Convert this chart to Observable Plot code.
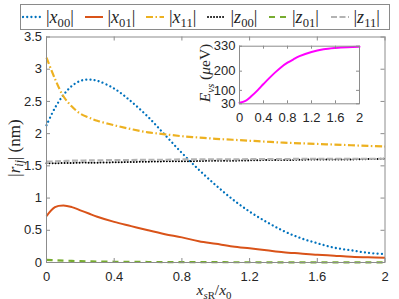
<!DOCTYPE html>
<html><head><meta charset="utf-8">
<script src="https://cdn.jsdelivr.net/npm/d3@7"></script>
<script src="https://cdn.jsdelivr.net/npm/@observablehq/plot@0.6"></script>
<style>
body{margin:0;background:#fff;}
#wrap{position:relative;width:399px;height:299px;overflow:hidden;font-family:"Liberation Sans",Arial,sans-serif;}
#wrap svg{position:absolute;left:0;top:0;}
.tex{position:absolute;font-family:"Liberation Serif","DejaVu Serif",serif;color:#262626;white-space:nowrap;line-height:1;}
.tex sub{font-size:70%;vertical-align:-0.3em;line-height:0;}
#legend{position:absolute;left:20px;top:4px;width:367px;height:24px;border:1px solid #8a8a8a;background:#fff;display:flex;align-items:center;padding-left:1px;box-sizing:content-box;}
.lg{display:flex;align-items:center;width:61.5px;flex:none;}
.lg svg{position:static !important;flex:none;}
.lg span{margin-left:4px;font-family:"Liberation Serif","DejaVu Serif",serif;font-size:18px;color:#262626;}
.lg sub{font-size:70%;vertical-align:-0.3em;line-height:0;}
</style></head><body>
<div id="wrap"></div>
<script>
// ---- data ----
const xGrid = [0,0.05,0.1,0.15,0.2,0.25,0.3,0.4,0.5,0.6,0.7,0.8,0.9,1.0,1.1,1.2,1.3,1.4,1.5,1.6,1.7,1.8,1.9,2.0];
const x00 = [2.13,2.40,2.60,2.74,2.82,2.84,2.82,2.70,2.50,2.26,1.98,1.70,1.44,1.20,0.98,0.79,0.63,0.49,0.38,0.30,0.23,0.19,0.15,0.13];
const x01 = [0.72,0.86,0.885,0.86,0.81,0.76,0.71,0.63,0.565,0.50,0.44,0.39,0.33,0.29,0.25,0.22,0.19,0.16,0.14,0.12,0.105,0.09,0.08,0.073];
const x11 = [3.18,2.85,2.58,2.42,2.31,2.25,2.20,2.13,2.07,2.02,1.99,1.96,1.94,1.92,1.905,1.89,1.875,1.86,1.85,1.84,1.83,1.82,1.81,1.80];
const z00 = [1.54,1.54,1.545,1.545,1.55,1.55,1.55,1.555,1.56,1.565,1.57,1.57,1.575,1.58,1.58,1.585,1.59,1.59,1.595,1.60,1.60,1.60,1.605,1.61];
const z01 = [0.04,0.035,0.03,0.025,0.02,0.018,0.015,0.012,0.01,0.008,0.007,0.006,0.005,0.005,0.004,0.004,0.003,0.003,0.003,0.002,0.002,0.002,0.002,0.002];
const z11 = [1.565,1.57,1.575,1.58,1.58,1.585,1.585,1.59,1.59,1.595,1.595,1.60,1.60,1.60,1.60,1.605,1.605,1.605,1.61,1.61,1.61,1.61,1.61,1.61];
const seriesNames = ["x00","x01","x11","z00","z01","z11"];
const legendLabels = [["x","00"],["x","01"],["x","11"],["z","00"],["z","01"],["z","11"]];
const insetX = [0,0.1,0.2,0.3,0.4,0.5,0.6,0.7,0.8,0.9,1.0,1.2,1.4,1.6,1.8,2.0];
const insetE = [35,45,70,100,133,165,195,222,244,262,278,300,314,321,325,327];
const xTicks = [0,0.4,0.8,1.2,1.6,2];
const yTicks = [0,0.5,1,1.5,2,2.5,3,3.5];
const insetYTicks = [30,100,200,330];

// ---- styles ----
const seriesValues = [x00,x01,x11,z00,z01,z11];
const styles = [
  {stroke:"#0072BD", strokeWidth:2.3, strokeDasharray:"0.01 4.2", strokeLinecap:"round"},
  {stroke:"#D95319", strokeWidth:2, strokeDasharray:null, strokeLinecap:"butt"},
  {stroke:"#EDB120", strokeWidth:2.2, strokeDasharray:"7 2.5 1.5 2.5", strokeLinecap:"butt"},
  {stroke:"#000000", strokeWidth:2, strokeDasharray:"0.01 3", strokeLinecap:"round"},
  {stroke:"#77AC30", strokeWidth:2.2, strokeDasharray:"6 5", strokeLinecap:"butt"},
  {stroke:"#B3B3B3", strokeWidth:2.2, strokeDasharray:"6 2.5", strokeLinecap:"butt"}
];
const axisColor = "#262626", frameColor = "#8c8c8c";
const W = 399, H = 299, mL = 46, mR = 14.5, mT = 36.5, mB = 37;
const pw = W - mL - mR, ph = H - mT - mB;
const tl = 4;

const lineMarks = seriesValues.map((vals, i) => {
  const rows = xGrid.map((x, j) => ({x, y: vals[j], s: seriesNames[i]}));
  const st = styles[i];
  return Plot.line(rows, {x:"x", y:"y", curve:"catmull-rom", stroke: st.stroke, strokeWidth: st.strokeWidth,
    strokeDasharray: st.strokeDasharray, strokeLinecap: st.strokeLinecap});
});

const main = Plot.plot({
  width: W, height: H, marginLeft: mL, marginRight: mR, marginTop: mT, marginBottom: mB,
  style: {background:"transparent", fontFamily:"'Liberation Sans', Arial, sans-serif", color: axisColor},
  x: {domain:[0,2], label:null},
  y: {domain:[0,3.5], label:null},
  marks: [
    ...lineMarks,
    Plot.tickX(xTicks, {x: d => d, insetTop: ph - tl, stroke: frameColor}),
    Plot.tickX(xTicks, {x: d => d, insetBottom: ph - tl, stroke: frameColor}),
    Plot.tickY(yTicks, {y: d => d, insetRight: pw - tl, stroke: frameColor}),
    Plot.tickY(yTicks, {y: d => d, insetLeft: pw - tl, stroke: frameColor}),
    Plot.frame({stroke: frameColor, strokeWidth: 1}),
    Plot.axisX(xTicks, {anchor:"bottom", tickSize:0, tickPadding:9.5, fontSize:13, label:null, tickFormat: d => String(d)}),
    Plot.axisY(yTicks, {anchor:"left", tickSize:0, tickPadding:4.5, fontSize:13, label:null, tickFormat: d => String(d)})
  ]
});

// inset
const iW = 200, iH = 95, iL = 49, iR = 31, iT = 9.7, iB = 27.7;
const ipw = iW - iL - iR, iph = iH - iT - iB, itl = 3;
const inset = Plot.plot({
  width: iW, height: iH, marginLeft: iL, marginRight: iR, marginTop: iT, marginBottom: iB,
  style: {background:"transparent", fontFamily:"'Liberation Sans', Arial, sans-serif", color: axisColor},
  x: {domain:[0,2], label:null},
  y: {domain:[30,330], label:null},
  marks: [
    Plot.frame({fill:"white"}),
    Plot.line(insetX.map((x, j) => ({x, y: insetE[j]})), {x:"x", y:"y", curve:"catmull-rom", stroke:"#FF00FF", strokeWidth:2}),
    Plot.tickX(xTicks, {x: d => d, insetTop: iph - itl, stroke: frameColor}),
    Plot.tickX(xTicks, {x: d => d, insetBottom: iph - itl, stroke: frameColor}),
    Plot.tickY(insetYTicks, {y: d => d, insetRight: ipw - itl, stroke: frameColor}),
    Plot.tickY(insetYTicks, {y: d => d, insetLeft: ipw - itl, stroke: frameColor}),
    Plot.frame({stroke: frameColor, strokeWidth: 1}),
    Plot.axisX(xTicks, {anchor:"bottom", tickSize:0, tickPadding:9, fontSize:13, label:null, tickFormat: d => String(d)}),
    Plot.axisY(insetYTicks, {anchor:"left", tickSize:0, tickPadding:4, fontSize:13, label:null, tickFormat: d => String(d)})
  ]
});

const wrap = document.getElementById("wrap");
wrap.appendChild(main);
inset.style.left = "190px";
inset.style.top = "36px";
wrap.appendChild(inset);

// axis titles
function addTex(html, cx, cy, size, rotate) {
  const d = document.createElement("div");
  d.className = "tex";
  d.innerHTML = html;
  d.style.fontSize = size + "px";
  d.style.left = cx + "px";
  d.style.top = cy + "px";
  d.style.transform = "translate(-50%,-50%)" + (rotate ? " rotate(-90deg)" : "");
  wrap.appendChild(d);
}
addTex("|<i>r</i><sub><i>ij</i></sub>| (nm)", 14, 148, 17, true);
addTex("<i>x</i><sub><i>s</i>R</sub>/<i>x</i><sub>0</sub>", 214, 290, 15.5, false);
addTex("<i>E</i><sub><i>vs</i></sub> (<i>μ</i>eV)", 205, 73, 15.5, true);

// legend
const lg = document.createElement("div");
lg.id = "legend";
legendLabels.forEach((lab, i) => {
  const st = styles[i];
  const e = document.createElement("div");
  e.className = "lg";
  const svg = d3.create("svg").attr("width", 20).attr("height", 10);
  svg.append("line").attr("x1", 1).attr("x2", 19).attr("y1", 5).attr("y2", 5)
    .attr("stroke", st.stroke).attr("stroke-width", st.strokeWidth)
    .attr("stroke-dasharray", st.strokeDasharray).attr("stroke-linecap", st.strokeLinecap);
  e.appendChild(svg.node());
  const sp = document.createElement("span");
  sp.innerHTML = "|<i>" + lab[0] + "</i><sub>" + lab[1] + "</sub>|";
  e.appendChild(sp);
  lg.appendChild(e);
});
wrap.appendChild(lg);
</script>
</body></html>
